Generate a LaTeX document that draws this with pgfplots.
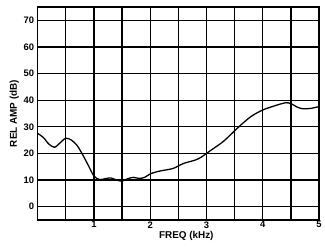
\documentclass[border=0pt]{standalone}
\usepackage{fontspec}
\setmainfont{Liberation Sans}
\usepackage{pgfplots}
\pgfplotsset{compat=1.18}
\begin{document}
\begin{tikzpicture}[x=1pt,y=1pt]
\begin{axis}[
  name=ax,
  scale only axis,
  width=284pt, height=215pt,
  xmin=0, xmax=5, ymin=-5, ymax=75,
  xtick={1,2,3,4,5},
  minor xtick={0.5,1.5,2.5,3.5,4.5},
  ytick={0,10,20,30,40,50,60,70},
  grid=both,
  major grid style={black, line width=1.3pt},
  minor grid style={black, line width=1.3pt},
  axis line style={black, line width=1.3pt},
  tick style={draw=none},
  /pgf/number format/assume math mode=true,
  tick label style={font=\fontsize{9.5}{10}\selectfont\bfseries},
  xticklabel style={yshift=2pt},
  yticklabel style={xshift=0pt},
  xlabel={FREQ (kHz)},
  ylabel={REL AMP (dB)},
  label style={font=\fontsize{10}{11}\selectfont\bfseries},
  xlabel style={yshift=4pt, xshift=8pt},
  ylabel style={yshift=-2pt},
]
\addplot[black, line width=1.3pt, smooth, tension=0.5] coordinates {
(0,27.5)(0.1,26)(0.2,23.5)(0.3,22.3)(0.4,24)(0.5,25.7)(0.6,25)(0.7,23)
(0.8,19.5)(0.9,15.5)(1.0,11.5)(1.1,10.2)(1.2,10.5)(1.3,10.8)(1.4,10)
(1.5,9.6)(1.6,10.5)(1.7,11)(1.8,10.6)(1.9,11)(2.0,12.3)(2.1,13)(2.2,13.5)
(2.4,14.3)(2.5,15.3)(2.6,16.3)(2.8,17.5)(2.9,18.5)(3.0,20)(3.1,21.5)
(3.3,24.5)(3.5,28.5)(3.6,30.5)(3.8,34)(4.0,36.3)(4.2,37.8)(4.4,39)
(4.5,38.7)(4.6,37.5)(4.7,36.8)(4.85,36.9)(5.0,37.6)
};
\end{axis}
\path (ax.south west) ++(-38pt,-31pt) coordinate (bl);
\path (ax.north east) ++(3pt,7pt) coordinate (tr);
\useasboundingbox (bl) rectangle (tr);
\end{tikzpicture}
\end{document}
